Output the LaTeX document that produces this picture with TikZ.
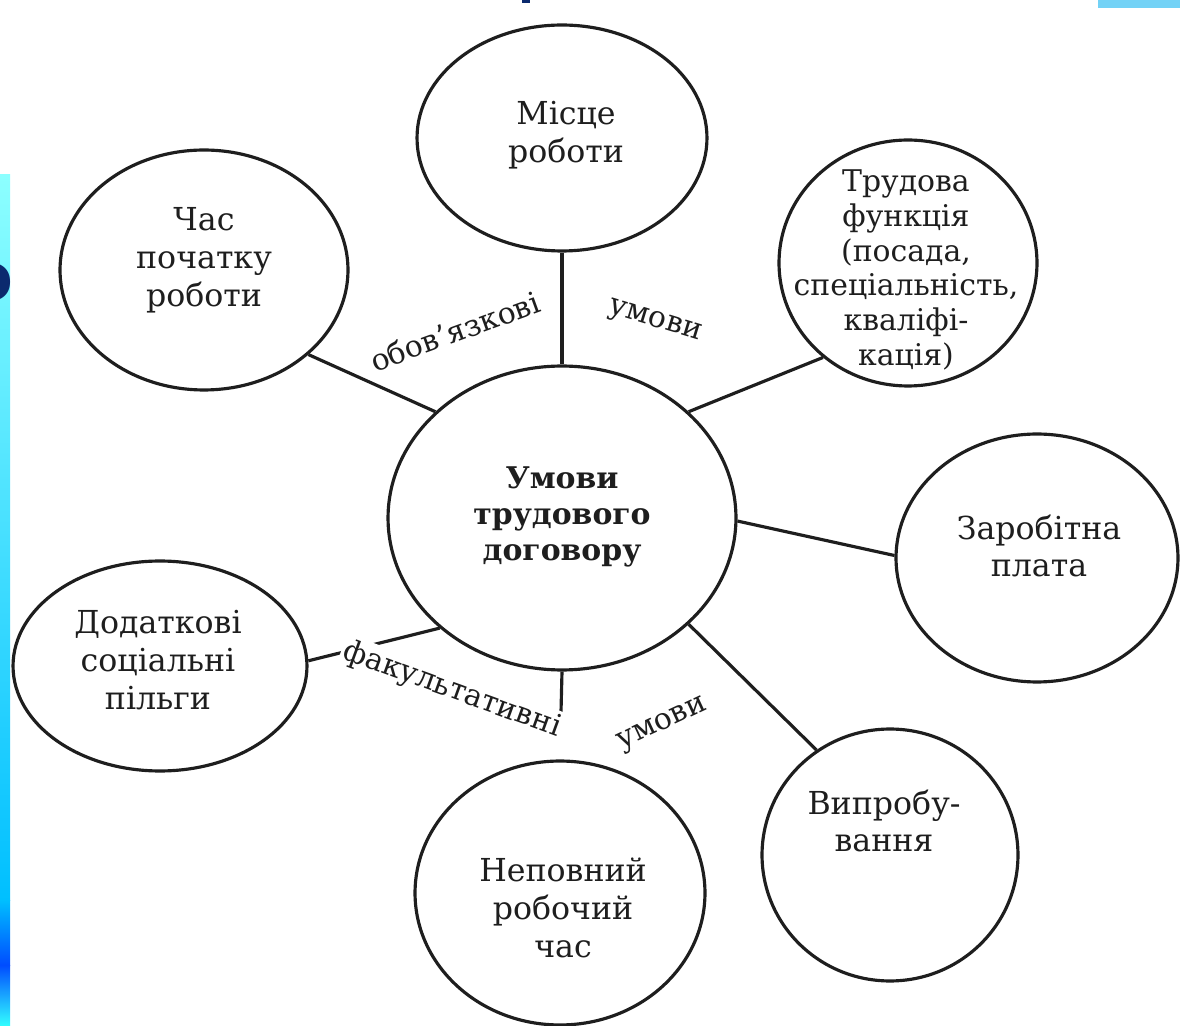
\documentclass[tikz,border=0pt]{standalone}
\usepackage{fontspec}
\setmainfont{DejaVu Serif}
\usetikzlibrary{shapes.geometric}
\definecolor{navy}{HTML}{0B2A6E}
\definecolor{ink}{HTML}{1E1E1E}
\tikzset{
  bub/.style={draw=ink, line width=1.8pt, ellipse, inner sep=0pt},
  txt/.style={align=center, text=ink, inner sep=0pt, font=\fontsize{18}{21.5}\selectfont},
  txtsm/.style={txt, font=\fontsize{17}{19.8}\selectfont},
  txtb/.style={txt, font=\fontsize{17}{20.5}\selectfont\bfseries},
  lab/.style={text=ink, inner sep=1.5pt, fill=white, font=\fontsize{17}{20}\selectfont},
  conn/.style={draw=ink, line width=1.8pt}
}
\begin{document}
\begin{tikzpicture}[x=0.02cm,y=-0.02cm]
\useasboundingbox (0,0) rectangle (1180,1026);
\clip (0,0) rectangle (1180,1026);
\fill[white] (0,0) rectangle (1180,1026);
% background decorations
\shade[top color=cyan!45!white, bottom color=cyan!75!blue] (0,175) rectangle (10,900);
\shade[top color=cyan!75!blue, bottom color=blue!70!cyan] (0,900) rectangle (10,965);
\shade[top color=blue!70!cyan, bottom color=cyan!80!white] (0,965) rectangle (10,1026);
\fill[cyan!55!white] (1098,0) rectangle (1180,8);
\fill[navy] (522,0) rectangle (530,3);
\node[text=navy, font=\fontsize{40}{40}\selectfont\bfseries, inner sep=0pt] (tl) at (-10,282) {о};

% bubbles
\node[bub, minimum width=6.96cm, minimum height=6.08cm] (cen) at (562,518) {};
\node[bub, minimum width=5.8cm, minimum height=4.52cm] (mis) at (562,138) {};
\node[bub, minimum width=5.76cm, minimum height=4.8cm] (chas) at (204,270) {};
\node[bub, minimum width=5.16cm, minimum height=4.92cm] (trud) at (908,263) {};
\node[bub, minimum width=5.64cm, minimum height=4.96cm] (zar) at (1037,558) {};
\node[bub, minimum width=5.12cm, minimum height=5.04cm] (vyp) at (890,855) {};
\node[bub, minimum width=5.8cm, minimum height=5.28cm] (nep) at (560,893) {};
\node[bub, minimum width=5.88cm, minimum height=4.2cm] (dod) at (160,666) {};

% texts
\node[txtb] (cent) at (562,517) {Умови\\трудового\\договору};
\node[txt] (mist) at (566,135) {Місце\\роботи};
\node[txt] (chast) at (204,260) {Час\\початку\\роботи};
\node[txtsm] (trudt) at (906,270) {Трудова\\функція\\(посада,\\спеціальність,\\кваліфі-\\кація)};
\node[txt] (zart) at (1039,546) {Заробітна\\плата};
\node[txt] (vypt) at (884,821) {Випробу-\\вання};
\node[txt] (nept) at (563,908) {Неповний\\робочий\\час};
\node[txt] (dodt) at (158,660) {Додаткові\\соціальні\\пільги};

% connectors
\coordinate (gap) at (561,712);
\draw[conn] (mis.south) -- (cen.north);
\draw[conn] (chas.-39) -- (cen.140);
\draw[conn] (trud.-132) -- (cen.40);
\draw[conn] (zar.179) -- (cen.-1);
\draw[conn] (vyp.125) -- (cen.-40);
\draw[conn] (cen.south) -- (gap);
\draw[conn] (dod.2) -- (cen.-138);

% labels
\node[lab, rotate=20] (l1) at (455,331) {обов’язкові};
\node[lab, rotate=-17, fill=none] (l2) at (655,322) {умови};
\node[lab, rotate=-20] (l3) at (452,690) {факультативні};
\node[lab, rotate=25, fill=none] (l4) at (663,725) {умови};
\end{tikzpicture}
\end{document}
